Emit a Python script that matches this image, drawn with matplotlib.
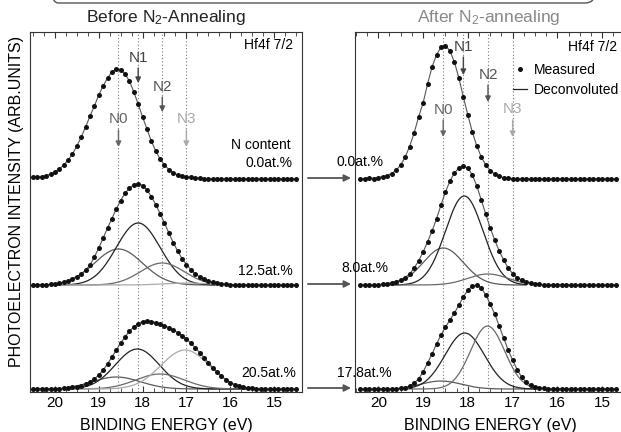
import numpy as np
import matplotlib.pyplot as plt
from matplotlib.patches import FancyBboxPatch
from matplotlib.ticker import MultipleLocator

plt.rcParams['font.family'] = ['Liberation Sans', 'DejaVu Sans']
plt.rcParams['mathtext.fontset'] = 'custom'
plt.rcParams['mathtext.rm'] = 'Liberation Sans'
plt.rcParams['mathtext.default'] = 'regular'

# sampled binding energies (eV), 0.1 eV steps
energy_before = np.round(np.arange(20.5, 14.45, -0.1), 1)
energy_after = np.round(np.arange(20.4, 14.65, -0.1), 1)

# measured intensities above each baseline (arb. units)
before_0 = [1.8, 2.0, 2.5, 3.5, 5, 7, 10, 14, 19, 25,
            33, 42, 52, 63, 73, 84, 93, 101, 107, 110,
            109.5, 105, 98, 87, 75, 62, 50, 38, 28, 20,
            14, 9.5, 6.3, 4.2, 3, 2.2, 1.6, 1.1, 0.8, 0.5,
            0.3, 0, 0.2, 0, 0, 0.2, 0, 0, 0, 0.2,
            0, 0, 0, 0.2, 0, 0, 0, 0, 0.2, 0, 0]
before_1 = [0, 0.2, 0.3, 0.4, 0.7, 1.1, 1.9, 2.9, 4.4, 6.5,
            8.5, 11, 15, 20, 28, 37, 47, 57, 66.5, 76,
            84.5, 91.7, 97, 100, 101.5, 99.5, 95, 88.5, 80.5, 71.5,
            62, 52, 42.5, 34, 26.5, 20.5, 15.5, 11.3, 8.1, 5.8,
            4, 2.8, 1.8, 1.2, 0.8, 0.5, 0.3, 0, 0.2, 0,
            0, 0.2, 0, 0, 0, 0.2, 0, 0, 0, 0.2, 0]
before_2 = [0, 0, 0.3, 0, 0.3, 0.5, 0.5, 0.8, 1.2, 1.6,
            2.5, 3.5, 5, 7, 10, 14, 19, 25, 32, 39,
            46, 52, 58, 62, 65.5, 67.5, 68, 67.5, 66.5, 65,
            63.5, 61.5, 59, 56.5, 53.5, 50, 46, 41.5, 36.5, 31.5,
            26.5, 21.5, 17, 13, 9.5, 6.5, 4.5, 3, 1.8, 1.2,
            0.8, 0.5, 0.3, 0.2, 0, 0, 0, 0.2, 0, 0, 0]

after_0 = [0, 0.5, 1.5, 0.5, 1.5, 2.5, 3.5, 5.5, 9, 14,
           22, 32.5, 46, 62, 76, 95, 112, 124, 132, 133.5,
           128, 117, 101, 82, 64, 47, 33, 22, 14, 8.5,
           5, 2.8, 1.5, 0.8, 0.5, 0.3, 0, 0.2, 0, 0,
           0, 0.2, 0, 0, 0, 0.2, 0, 0, 0, 0.2,
           0, 0, 0, 0.2, 0, 0, 0, 0]
after_1 = [0, 0.3, 0, 0.3, 0.5, 0.8, 1.5, 2.5, 3.5, 5,
           7.5, 11, 17, 24, 33, 43, 54, 66, 80, 93,
           104, 112, 117, 119, 117, 110, 99, 85, 71, 57,
           45, 34, 25, 17, 11.5, 7.5, 5, 3, 2, 1.2,
           0.6, 0.3, 0, 0.2, 0, 0, 0.2, 0, 0, 0,
           0.2, 0, 0, 0, 0.2, 0, 0, 0]
after_2 = [0, 0, 0.3, 0, 0.3, 0, 0.3, 0.3, 0.5, 0.8,
           1.5, 3, 6, 10, 17, 26, 35, 45, 54, 62,
           69, 76, 84, 92, 99, 103, 104, 101, 94, 85,
           75, 63, 51, 39, 29, 19.5, 12, 7, 4, 2.2,
           1.2, 0.6, 0.3, 0, 0.3, 0, 0, 0.2, 0, 0,
           0.2, 0, 0, 0, 0.2, 0, 0.3, 0]

# deconvoluted components N0..N3: centre (eV), height, sigma (eV)
before_1_peaks = ([18.55, 18.1, 17.55, 17.0], [36, 62, 22, 2], [0.55, 0.5, 0.5, 0.5])
before_2_peaks = ([18.6, 18.12, 17.6, 17.03], [12, 40, 15, 39], [0.55, 0.5, 0.55, 0.55])
after_1_peaks = ([18.55, 18.08, 17.55], [37, 89, 11], [0.45, 0.42, 0.45])
after_2_peaks = ([18.6, 18.07, 17.56], [8, 56, 63], [0.45, 0.44, 0.38])
comp_colors = ['#5a5a5a', '#222222', '#6a6a6a', '#aaaaaa']

peak_pos = [18.55, 18.1, 17.55, 17.0]
peak_names = ['N0', 'N1', 'N2', 'N3']
peak_colors = ['#666666', '#444444', '#555555', '#aaaaaa']

baselines = [213, 107, 3]
before_labels = ['0.0at.%', '12.5at.%', '20.5at.%']
after_labels = ['0.0at.%', '8.0at.%', '17.8at.%']


def gauss(e, c, h, s):
    return h * np.exp(-(e - c) ** 2 / (2 * s ** 2))


def draw_spectrum(ax, energy, counts, base, peaks=None, span=None, label=None):
    y = np.array(counts) + base
    ax.plot(energy, y, '-', color='#555555', lw=0.8, zorder=3)
    dots, = ax.plot(energy, y, 'o', color='#111111', ms=3.6, mec='none', zorder=4,
                    label=label)
    lines = []
    if peaks is not None:
        e = np.linspace(span[0], span[1], 300)
        for c, h, s, col in zip(*peaks, comp_colors):
            ln, = ax.plot(e, base + gauss(e, c, h, s), color=col, lw=0.9, zorder=2)
            lines.append(ln)
    return dots, lines


fig = plt.figure(figsize=(6.21, 4.32), dpi=100)
ax1 = fig.add_axes([30 / 621, 40 / 432, 272 / 621, 360 / 432])
ax2 = fig.add_axes([355 / 621, 40 / 432, 266 / 621, 360 / 432])

draw_spectrum(ax1, energy_before, before_0, baselines[0])
draw_spectrum(ax1, energy_before, before_1, baselines[1], before_1_peaks, (19.95, 16.35))
draw_spectrum(ax1, energy_before, before_2, baselines[2], before_2_peaks, (19.8, 15.6))

meas, _ = draw_spectrum(ax2, energy_after, after_0, baselines[0], label='Measured')
_, dec = draw_spectrum(ax2, energy_after, after_1, baselines[1], after_1_peaks, (19.9, 16.7))
draw_spectrum(ax2, energy_after, after_2, baselines[2], after_2_peaks, (19.35, 16.5))

ax1.set_xlim(20.57, 14.36)
ax2.set_xlim(20.52, 14.58)

for ax in (ax1, ax2):
    ax.set_ylim(0, 360)
    ax.set_yticks([])
    ax.set_xticks([20, 19, 18, 17, 16, 15])
    ax.xaxis.set_minor_locator(MultipleLocator(0.25))
    ax.tick_params(which='both', direction='in', top=True, bottom=True,
                   labelsize=11, pad=3, color='#333333')
    ax.tick_params(which='major', length=4)
    ax.tick_params(which='minor', length=3)
    for sp in ax.spines.values():
        sp.set_color('#333333')
        sp.set_linewidth(0.8)
    for p in peak_pos:
        ax.axvline(p, color='#777777', ls=(0, (1, 2)), lw=0.8, zorder=1)
    ax.set_xlabel('BINDING ENERGY (eV)', fontsize=11.5)
ax2.spines['right'].set_visible(False)
ax1.xaxis.set_label_coords(0.5, -0.092)
ax2.xaxis.set_label_coords(0.508, -0.092)
ax1.xaxis.label.set_va('center')
ax2.xaxis.label.set_va('center')

ax1.set_ylabel('PHOTOELECTRON INTENSITY (ARB.UNITS)', fontsize=11.5)
ax1.yaxis.set_label_coords(-0.022, 0.528)

ax1.text(0.5, 1.039, 'Before N$_2$-Annealing', transform=ax1.transAxes,
         ha='center', va='center', fontsize=12.5, color='#222222')
ax2.text(0.504, 1.039, 'After N$_2$-annealing', transform=ax2.transAxes,
         ha='center', va='center', fontsize=12.5, color='#888888')

# N markers: label y, arrow start, arrow end (data units)
before_marks = [(273, 262, 245), (334, 324, 309), (305, 295, 280), (273, 262, 245)]
after_marks = [(282, 272, 255), (345, 335, 317), (317, 307, 290), (283, 272, 255)]
for ax, marks in ((ax1, before_marks), (ax2, after_marks)):
    for p, name, col, (ly, y0, y1) in zip(peak_pos, peak_names, peak_colors, marks):
        ax.text(p, ly, name, ha='center', va='center', fontsize=11, color=col)
        ax.annotate('', xy=(p, y1), xytext=(p, y0),
                    arrowprops=dict(arrowstyle='-|>', color=col, lw=1.0,
                                    mutation_scale=8, shrinkA=0, shrinkB=0))

yt1 = ax1.get_yaxis_transform()
yt2 = ax2.get_yaxis_transform()
ax1.text(0.967, 347, 'Hf4f 7/2', transform=yt1, ha='right', va='center', fontsize=10)
ax2.text(0.985, 345, 'Hf4f 7/2', transform=yt2, ha='right', va='center', fontsize=10)
ax1.text(0.958, 247, 'N content', transform=yt1, ha='right', va='center', fontsize=10)
for lab, y in zip(before_labels, [229, 121, 19]):
    ax1.text(0.98 if y < 50 else 0.965, y, lab, transform=yt1, ha='right',
             va='center', fontsize=10)
for lab, y, x in zip(after_labels, [230, 124, 19], [-0.068, -0.05, -0.069]):
    ax2.text(x, y, lab, transform=yt2, ha='left', va='center', fontsize=10)

# arrows from the "before" to the "after" spectra
for base in baselines:
    ax2.annotate('', xy=(-0.015, base + 1), xytext=(-0.177, base + 1),
                 xycoords=yt2, textcoords=yt2, annotation_clip=False,
                 arrowprops=dict(arrowstyle='-|>', color='#555555', lw=1.3,
                                 mutation_scale=10, shrinkA=0, shrinkB=0))

dec[1].set_label('Deconvoluted')
ax2.legend(handles=[meas, dec[1]], loc='upper left', bbox_to_anchor=(0.595, 0.915),
           frameon=False, fontsize=10, handlelength=1.0, handletextpad=0.5,
           borderpad=0, borderaxespad=0, labelspacing=0.45)

# edge of the surrounding frame at the top
fig.add_artist(FancyBboxPatch((0.48, 4.29), 5.47, 0.6,
                              boxstyle='round,pad=0,rounding_size=0.1',
                              transform=fig.dpi_scale_trans, fill=False,
                              ec='#555555', lw=1))

fig.savefig('out.png', dpi=100)
